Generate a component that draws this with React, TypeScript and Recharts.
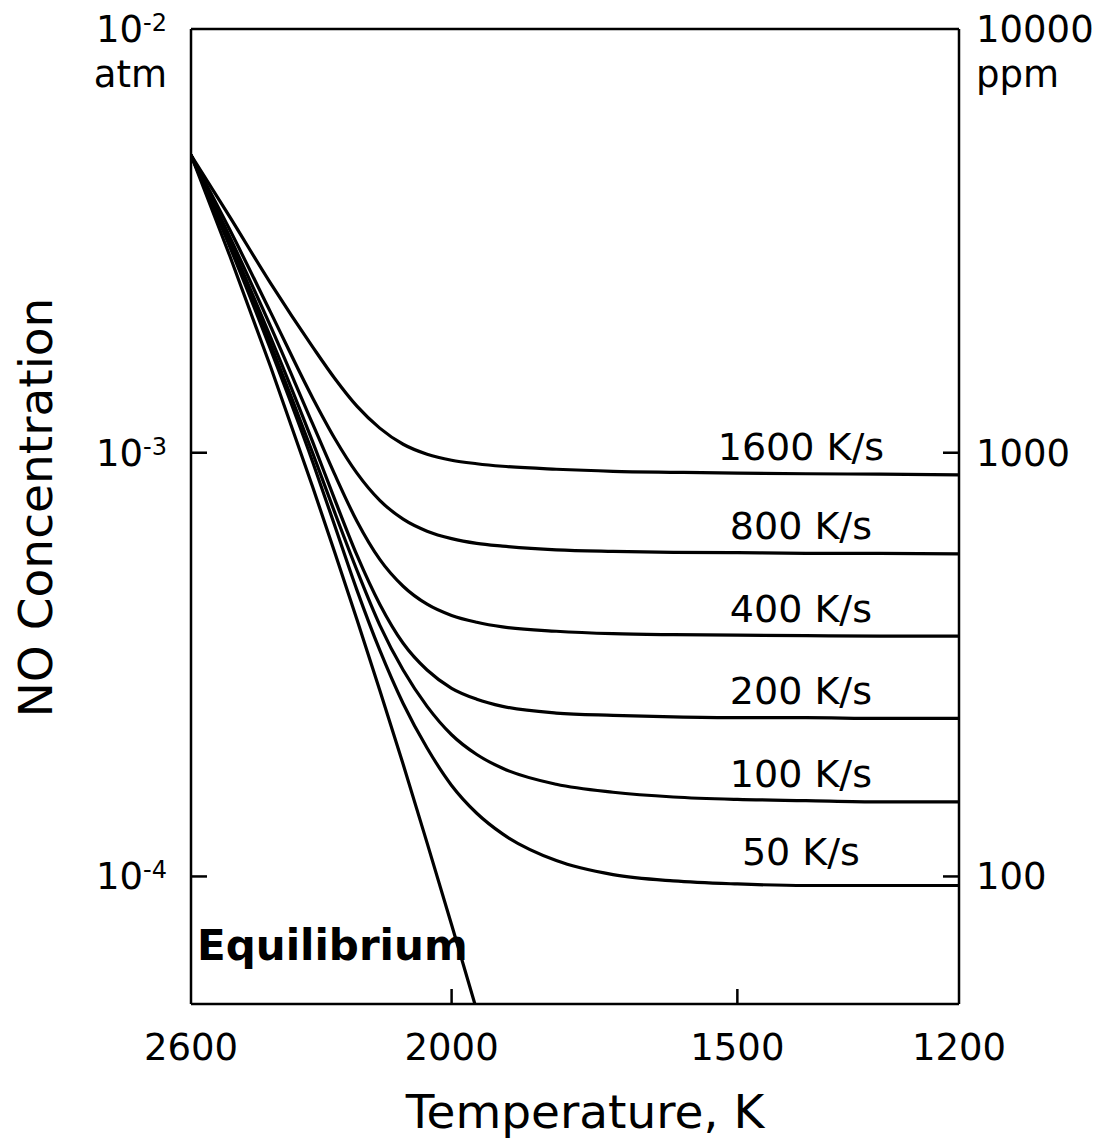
import React from 'react';
import { LineChart, Line, XAxis, YAxis, ReferenceLine } from 'recharts';

// temperature samples, K (x axis is log scale, reversed)
const temperatures = [2600, 2500, 2400, 2300, 2250, 2200, 2150, 2100, 2050, 2000, 1950, 1900, 1800, 1700, 1600, 1500, 1400, 1300, 1200];

// NO concentration in ppm (10000 ppm = 1e-2 atm)
const equilibrium = [5040, 2909, 1598, 829, 583, 404, 275, 184, 120, 76.9, 48.3, null, null, null, null, null, null, null, null];
const rate1600 = [5040, 3598, 2513, 1775, 1499, 1288, 1143, 1047, 992, 960, 942, 929, 914, 904, 899, 895, 892, 890, 887];
const rate800 = [5040, 3353, 2147, 1345, 1082, 895, 772, 697, 653, 627, 611, 602, 590, 585, 582, 581, 579, 579, 577];
const rate400 = [5040, 3227, 1989, 1168, 890, 689, 560, 484, 439, 413, 398, 388, 379, 374, 372, 371, 370, 369, 369];
const rate200 = [5040, 3141, 1874, 1059, 777, 573, 439, 355, 307, 278, 262, 252, 243, 240, 238, 237, 237, 236, 236];
const rate100 = [5040, 3090, 1804, 997, 724, 528, 392, 307, 252, 216, 194, 180, 165, 158, 154, 152, 151, 150, 150];
const rate50 = [5040, 3057, 1755, 950, 674, 474, 342, 256, 201, 164, 141, 126, 109, 101, 97.6, 96.0, 95.2, 95.2, 95.2];

const rateNames = ['1600 K/s', '800 K/s', '400 K/s', '200 K/s', '100 K/s', '50 K/s'];
const tempTicks = [2600, 2000, 1500, 1200];
const ppmTicks = [10000, 1000, 100];

const FONT = 'DejaVu Sans';
const INK = '#000';
const LABEL_AT = temperatures.indexOf(1400);

const rows = temperatures.map((T, i) => ({
  T,
  eq: equilibrium[i],
  r1600: rate1600[i],
  r800: rate800[i],
  r400: rate400[i],
  r200: rate200[i],
  r100: rate100[i],
  r50: rate50[i],
}));

const rateKeys = ['r1600', 'r800', 'r400', 'r200', 'r100', 'r50'];

// text sits just above the plateau of each curve
const rateDot = (name: string, lift: number) => (props: any) => {
  const { cx, cy, index } = props;
  if (index !== LABEL_AT) return <g key={`d-${index}`} />;
  return (
    <text key={`d-${index}`} x={cx - 5} y={cy - lift} textAnchor="middle" fontSize={38} fontFamily={FONT} fill={INK}>
      {name}
    </text>
  );
};

const LeftTick = (props: any) => {
  const { x, y, payload } = props;
  const exp = Math.round(Math.log10(payload.value)) - 6;
  return (
    <g>
      {payload.value !== 10000 && <line x1={x} x2={x + 16} y1={y} y2={y} stroke={INK} strokeWidth={2.5} />}
      <text x={x - 24} y={y + 13} textAnchor="end" fontSize={37} fontFamily={FONT} fill={INK}>
        10<tspan dy={-11} fontSize={24}>{exp}</tspan>
      </text>
      {payload.value === 10000 && (
        <text x={x - 24} y={y + 58} textAnchor="end" fontSize={37} fontFamily={FONT} fill={INK}>atm</text>
      )}
    </g>
  );
};

const RightTick = (props: any) => {
  const { x, y, payload } = props;
  return (
    <g>
      {payload.value !== 10000 && <line x1={x - 16} x2={x} y1={y} y2={y} stroke={INK} strokeWidth={2.5} />}
      <text x={x + 17} y={y + 13} textAnchor="start" fontSize={37} fontFamily={FONT} fill={INK}>
        {payload.value}
      </text>
      {payload.value === 10000 && (
        <text x={x + 17} y={y + 58} textAnchor="start" fontSize={37} fontFamily={FONT} fill={INK}>ppm</text>
      )}
    </g>
  );
};

const BottomTick = (props: any) => {
  const { x, y, payload } = props;
  const inner = payload.value !== 2600 && payload.value !== 1200;
  return (
    <g>
      {inner && <line x1={x} x2={x} y1={y} y2={y - 15} stroke={INK} strokeWidth={2.5} />}
      <text x={x} y={y + 56} textAnchor="middle" fontSize={37} fontFamily={FONT} fill={INK}>
        {payload.value}
      </text>
    </g>
  );
};

const tempTitle = (props: any) => {
  const vb = props.viewBox;
  return (
    <g>
      <text x={vb.x + vb.width / 2 + 10} y={vb.y + 124} textAnchor="middle" fontSize={47} fontFamily={FONT} fill={INK}>
        Temperature, K
      </text>
      <text x={vb.x + 6} y={vb.y - 44} textAnchor="start" fontSize={42} fontWeight="bold" fontFamily={FONT} fill={INK}>
        Equilibrium
      </text>
    </g>
  );
};

const concTitle = (props: any) => {
  const vb = props.viewBox;
  const cx = 52;
  const cy = vb.y + vb.height / 2 - 9;
  return (
    <text x={cx} y={cy} transform={`rotate(-90 ${cx} ${cy})`} textAnchor="middle" fontSize={47} fontFamily={FONT} fill={INK}>
      NO Concentration
    </text>
  );
};

export default function App() {
  const axisLine = { stroke: INK, strokeWidth: 2.5 };
  return (
    <div style={{ position: 'absolute', left: 0, top: 0, width: 1095, height: 1141, background: '#fff' }}>
      <LineChart width={1095} height={1141} data={rows} margin={{ top: 29, right: 0, bottom: 0, left: 0 }}>
        <XAxis
          xAxisId="b"
          dataKey="T"
          type="number"
          scale="log"
          domain={[1200, 2600]}
          reversed
          allowDataOverflow
          ticks={tempTicks}
          interval={0}
          height={137}
          tickSize={0}
          tickMargin={0}
          tickLine={false}
          axisLine={axisLine}
          tick={<BottomTick />}
          label={tempTitle}
        />
        <YAxis
          yAxisId="left"
          type="number"
          scale="log"
          domain={[50, 10000]}
          allowDataOverflow
          ticks={ppmTicks}
          interval={0}
          width={191}
          tickSize={0}
          tickMargin={0}
          tickLine={false}
          axisLine={axisLine}
          tick={<LeftTick />}
          label={concTitle}
        />
        <YAxis
          yAxisId="right"
          orientation="right"
          type="number"
          scale="log"
          domain={[50, 10000]}
          allowDataOverflow
          ticks={ppmTicks}
          interval={0}
          width={136}
          tickSize={0}
          tickMargin={0}
          tickLine={false}
          axisLine={axisLine}
          tick={<RightTick />}
        />
        {/* top edge of the frame */}
        <ReferenceLine xAxisId="b" yAxisId="left" y={10000} stroke={INK} strokeWidth={2.5} />
        <Line
          xAxisId="b"
          yAxisId="left"
          dataKey="eq"
          type="monotone"
          stroke={INK}
          strokeWidth={3.2}
          dot={false}
          activeDot={false}
          isAnimationActive={false}
        />
        {rateKeys.map((k, i) => (
          <Line
            key={k}
            xAxisId="b"
            yAxisId="left"
            dataKey={k}
            type="monotone"
            stroke={INK}
            strokeWidth={3.2}
            dot={rateDot(rateNames[i], i === 5 ? 20 : 14)}
            activeDot={false}
            isAnimationActive={false}
          />
        ))}
      </LineChart>
    </div>
  );
}
